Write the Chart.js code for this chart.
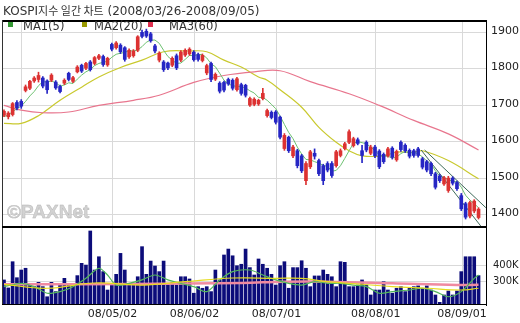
<!DOCTYPE html>
<html><head><meta charset="utf-8">
<script src="https://cdn.jsdelivr.net/npm/chart.js@4/dist/chart.umd.min.js"></script>
<style>
html,body{margin:0;padding:0;background:#fff;}
#wrap{position:relative;width:520px;height:323px;overflow:hidden;background:#fff;}
canvas{position:absolute;left:0;}
#c1{top:0;}
#c2{top:228px;}
.txt{position:absolute;white-space:nowrap;color:#333;font-family:"DejaVu Sans",sans-serif;}
#title{left:3px;top:3px;font-size:12px;line-height:14px;}
#title .h{font-family:"Noto Sans CJK KR";font-size:11px;}
.sw{position:absolute;width:5px;height:5px;}
.lg{font-size:11.5px;line-height:14px;top:19px;}
#wm{left:7px;top:201px;font:bold 19px "Liberation Sans",Arial,sans-serif;color:#d2d2d2;-webkit-text-stroke:0.4px #b4b4b4;}
</style></head>
<body><div id="wrap">
<canvas id="c1" width="520" height="228"></canvas>
<canvas id="c2" width="520" height="95"></canvas>
<div id="title" class="txt">KOSPI<span class="h">지수 일간 차트</span> (2008/03/26-2008/09/05)</div>
<div class="sw" style="left:8px;top:22px;background:#339933"></div><div class="txt lg" style="left:23px">MA1(5)</div>
<div class="sw" style="left:82px;top:22px;background:#999900"></div><div class="txt lg" style="left:94px">MA2(20)</div>
<div class="sw" style="left:148px;top:22px;background:#e03050"></div><div class="txt lg" style="left:169px">MA3(60)</div>
<div id="wm" class="txt">©PAXNet</div>
</div>
<script>
// ---- data ----
const tickIdx = [4, 25, 44, 63, 86, 106];
const tickLabels = ['', '08/05/02', '08/06/02', '08/07/01', '08/08/01', '08/09/01'];
const priceTicks = [1400, 1500, 1600, 1700, 1800, 1900];
const volTicks = [300, 400];

const opens = [1672,1668,1674,1707,1710,1740,1746,1766,1770,1774,
1766,1768,1763,1751,1760,1787,1765,1791,1809,1801,
1818,1814,1828,1833,1810,1866,1857,1864,1857,1832,
1835,1850,1899,1902,1895,1862,1823,1818,1815,1809,
1835,1823,1837,1840,1845,1838,1822,1788,1814,1771,
1760,1762,1770,1768,1742,1756,1754,1700,1702,1703,
1718,1671,1680,1681,1667,1581,1612,1561,1575,1561,
1493,1531,1568,1548,1534,1540,1540,1534,1562,1581,
1598,1589,1605,1575,1598,1568,1585,1574,1565,1561,
1582,1550,1598,1590,1576,1575,1580,1553,1545,1540,
1512,1506,1484,1466,1500,1488,1452,1430,1396,1410,1392];
const highs = [1687,1682,1707,1712,1715,1755,1768,1778,1790,1778,
1769,1786,1767,1755,1772,1790,1779,1808,1812,1817,
1822,1833,1839,1837,1831,1870,1874,1868,1860,1854,
1852,1890,1905,1908,1899,1866,1846,1822,1818,1832,
1840,1849,1854,1857,1849,1842,1840,1812,1818,1788,
1764,1766,1774,1772,1776,1760,1757,1722,1720,1716,
1746,1689,1684,1685,1670,1622,1615,1590,1579,1565,
1545,1576,1580,1552,1538,1545,1545,1576,1580,1598,
1632,1612,1610,1590,1602,1590,1590,1578,1569,1584,
1586,1577,1602,1594,1580,1579,1584,1557,1549,1544,
1516,1510,1505,1505,1504,1492,1458,1434,1437,1441,1419];
const lows = [1668,1662,1670,1687,1691,1736,1742,1762,1763,1747,
1732,1764,1743,1733,1756,1766,1761,1788,1789,1797,
1793,1810,1824,1806,1806,1848,1853,1841,1820,1828,
1831,1846,1884,1885,1872,1843,1818,1792,1797,1805,
1797,1819,1833,1836,1820,1820,1818,1783,1764,1767,
1733,1736,1754,1741,1738,1727,1722,1696,1698,1699,
1714,1667,1662,1648,1607,1576,1570,1556,1528,1515,
1482,1526,1552,1507,1482,1517,1502,1530,1558,1577,
1594,1585,1591,1542,1572,1564,1556,1526,1540,1557,
1552,1546,1573,1570,1555,1557,1557,1525,1517,1507,
1470,1488,1480,1461,1481,1466,1411,1388,1391,1405,1388];
const closes = [1683,1678,1704,1692,1697,1750,1765,1774,1781,1752,
1742,1782,1747,1737,1768,1770,1775,1804,1793,1814,
1797,1830,1835,1811,1828,1853,1870,1846,1825,1850,
1848,1887,1888,1889,1876,1848,1842,1797,1802,1828,
1802,1845,1850,1853,1824,1825,1836,1808,1770,1784,
1738,1741,1758,1746,1772,1732,1727,1718,1716,1713,
1732,1685,1666,1653,1612,1617,1575,1585,1534,1520,
1540,1572,1560,1512,1493,1522,1507,1572,1575,1594,
1627,1608,1595,1562,1577,1585,1561,1531,1545,1580,
1557,1573,1578,1575,1560,1562,1562,1530,1522,1512,
1475,1493,1501,1500,1486,1471,1416,1393,1433,1437,1415];
const ma5 = [1668,1673,1682,1690,1697,1710,1725,1737,1753,1764,
1763,1766,1761,1752,1755,1761,1759,1771,1782,1791,
1797,1808,1814,1817,1820,1831,1839,1842,1844,1849,
1848,1851,1860,1872,1878,1878,1869,1850,1833,1823,
1814,1815,1825,1836,1835,1839,1838,1829,1813,1805,
1787,1768,1758,1753,1751,1750,1747,1739,1733,1721,
1721,1713,1702,1690,1670,1647,1625,1608,1585,1566,
1551,1550,1545,1541,1535,1532,1519,1521,1534,1554,
1575,1595,1600,1597,1594,1585,1576,1563,1560,1560,
1555,1557,1567,1573,1569,1570,1567,1558,1547,1538,
1520,1506,1501,1496,1491,1490,1475,1453,1440,1430,1419];
const ma20Idx = [0,4,8,13,18,22,27,32,37,43,47,51,55,59,61,64,69,73,77,80,83,88,91,95,97,103,110];
const ma20Val = [1650,1650,1671,1713,1749,1777,1803,1823,1846,1848,1846,1823,1804,1777,1768,1742,1694,1639,1598,1575,1561,1561,1571,1571,1575,1548,1498];
const ma60Idx = [0,4,9,15,22,30,36,44,51,58,64,71,80,87,95,103,110];
const ma60Val = [1699,1686,1679,1681,1699,1713,1727,1762,1781,1791,1794,1764,1731,1699,1658,1621,1577];
const trendAIdx = [96.7, 111.7], trendAVal = [1577, 1351];
const trendBIdx = [97.5, 111.7], trendBVal = [1577, 1419];

const volumes = [311,261,425,325,373,384,279,269,296,269,
206,296,238,279,321,279,290,338,415,404,
617,373,456,363,248,279,346,477,373,290,
285,331,519,346,429,398,363,429,279,296,
279,331,331,317,228,269,259,269,238,373,
311,467,504,462,400,409,504,388,342,442,
409,384,346,279,400,425,259,388,388,431,
384,269,336,336,373,346,331,269,425,421,
269,269,279,311,279,217,248,248,300,248,
228,259,269,238,259,269,274,259,274,248,
217,171,217,242,217,242,363,456,456,456,338];
const vma5Idx = [0,4,7,10,13,16,19,22,24,26,29,32,35,38,41,44,47,50,53,57,60,63,66,69,72,75,78,81,84,87,90,94,97,100,103,106,109,110];
const vma5Val = [269,290,269,228,238,269,321,384,342,279,290,311,342,311,290,269,238,311,363,373,342,311,290,279,300,290,290,279,269,228,238,248,259,238,206,238,321,342];
const vma20Idx = [0,10,21,32,42,53,63,69,75,83,90,98,106,110];
const vma20Val = [283,259,292,279,300,323,321,321,300,284,269,259,248,259];
const vma60Idx = [0,30,55,65,75,90,105,110];
const vma60Val = [284,286,292,300,300,290,279,281];

// ---- build ----
const RED = '#dc3232', BLUE = '#2626c4';
const pts = (ix, vals) => ix.map((x, i) => ({x, y: vals[i]}));
const idx = closes.map((_, i) => i);
const candleCol = idx.map(i => closes[i] >= opens[i] ? RED : BLUE);
const X_MIN = -0.46, X_MAX = 111.73, GRID_SHIFT = 0.17;
const gridCol = '#d9d9d9';
const font11 = {family: 'DejaVu Sans', size: 11};
const noPad = s => { s.paddingTop = 0; s.paddingBottom = 0; s.paddingLeft = 0; s.paddingRight = 0; };

function xScale(showLabels) {
  return {
    type: 'linear', min: X_MIN, max: X_MAX, offset: false,
    grid: {offset: false, color: gridCol, drawTicks: false},
    border: {display: false},
    ticks: {display: showLabels, autoSkip: false, maxRotation: 0, padding: 3, font: font11, color: '#222',
      callback: (v, i) => tickLabels[i]},
    afterBuildTicks: s => { s.ticks = tickIdx.map(v => ({value: v + GRID_SHIFT})); },
    afterFit: s => { s.height = showLabels ? 18 : 0; noPad(s); }
  };
}
const frame = {
  id: 'frame',
  afterDraw(chart, args, o) {
    const {ctx, chartArea: a} = chart;
    ctx.save();
    ctx.fillStyle = '#000';
    if (o.top) ctx.fillRect(a.left, a.top, a.right - a.left + 1, 2);
    ctx.fillRect(a.right, a.top, 1, a.bottom - a.top + 1);
    ctx.fillStyle = '#333';
    ctx.fillRect(a.left, a.top, 1, a.bottom - a.top);
    ctx.fillStyle = '#000';
    ctx.fillRect(a.left, a.bottom - o.bh, a.right - a.left + 1, o.bh);
    ctx.restore();
  }
};
const lineDs = (data, color, w, order, tension) => ({type: 'line', data, borderColor: color, borderWidth: w,
  pointRadius: 0, fill: false, tension: tension, order});

new Chart(document.getElementById('c1'), {
  type: 'bar',
  data: {datasets: [
    lineDs(pts(ma60Idx, ma60Val), '#e8768e', 1.2, 3, 0.4),
    lineDs(pts(ma20Idx, ma20Val), '#c9c92e', 1.2, 3, 0.4),
    lineDs(pts(idx, ma5), '#6cc070', 1, 2, 0),
    lineDs(pts(trendAIdx, trendAVal), '#3e6a5a', 1, 1, 0),
    lineDs(pts(trendBIdx, trendBVal), '#3e6a5a', 1, 1, 0),
    {type: 'bar', data: idx.map(i => ({x: i, y: [lows[i], highs[i]]})), backgroundColor: candleCol,
      barThickness: 1, grouped: false, order: 0},
    {type: 'bar', data: idx.map(i => ({x: i, y: [Math.min(opens[i], closes[i]), Math.max(opens[i], closes[i])]})),
      backgroundColor: candleCol, barThickness: 3, grouped: false, order: 0}
  ]},
  options: {
    responsive: false, animation: false, devicePixelRatio: 1,
    layout: {padding: {top: 20, left: 2, right: 0, bottom: 0}},
    plugins: {legend: {display: false}, tooltip: {enabled: false}, frame: {top: true, bh: 2}},
    scales: {
      x: xScale(false),
      y: {position: 'right', min: 1363.4, max: 1932.9,
        grid: {color: gridCol, drawTicks: false}, border: {display: false},
        ticks: {padding: 5, font: font11, color: '#222', labelOffset: -1, callback: v => String(v)},
        afterBuildTicks: s => { s.ticks = priceTicks.map(v => ({value: v})); },
        afterFit: s => { s.width = 34; noPad(s); }}
    }
  },
  plugins: [frame]
});

new Chart(document.getElementById('c2'), {
  type: 'bar',
  data: {datasets: [
    lineDs(pts(vma60Idx, vma60Val), '#f08aa0', 2.5, 2, 0.4),
    lineDs(pts(vma20Idx, vma20Val), '#e6dc1e', 1.2, 1, 0.4),
    lineDs(pts(vma5Idx, vma5Val), '#52b85a', 1.2, 1, 0.3),
    {type: 'bar', data: idx.map(i => ({x: i, y: volumes[i]})), backgroundColor: '#0c0c7a',
      barThickness: 3, grouped: false, order: 3}
  ]},
  options: {
    responsive: false, animation: false, devicePixelRatio: 1,
    layout: {padding: {top: 0, left: 2, right: 0, bottom: 0}},
    plugins: {legend: {display: false}, tooltip: {enabled: false}, frame: {top: false, bh: 1}},
    scales: {
      x: xScale(true),
      y: {position: 'right', min: 154.4, max: 635.6,
        grid: {color: gridCol, drawTicks: false}, border: {display: false},
        ticks: {padding: 7, font: {family: 'DejaVu Sans', size: 10}, color: '#222', callback: v => v + 'K'},
        afterBuildTicks: s => { s.ticks = volTicks.map(v => ({value: v})); },
        afterFit: s => { s.width = 34; noPad(s); }}
    }
  },
  plugins: [frame]
});
</script>
</body></html>
